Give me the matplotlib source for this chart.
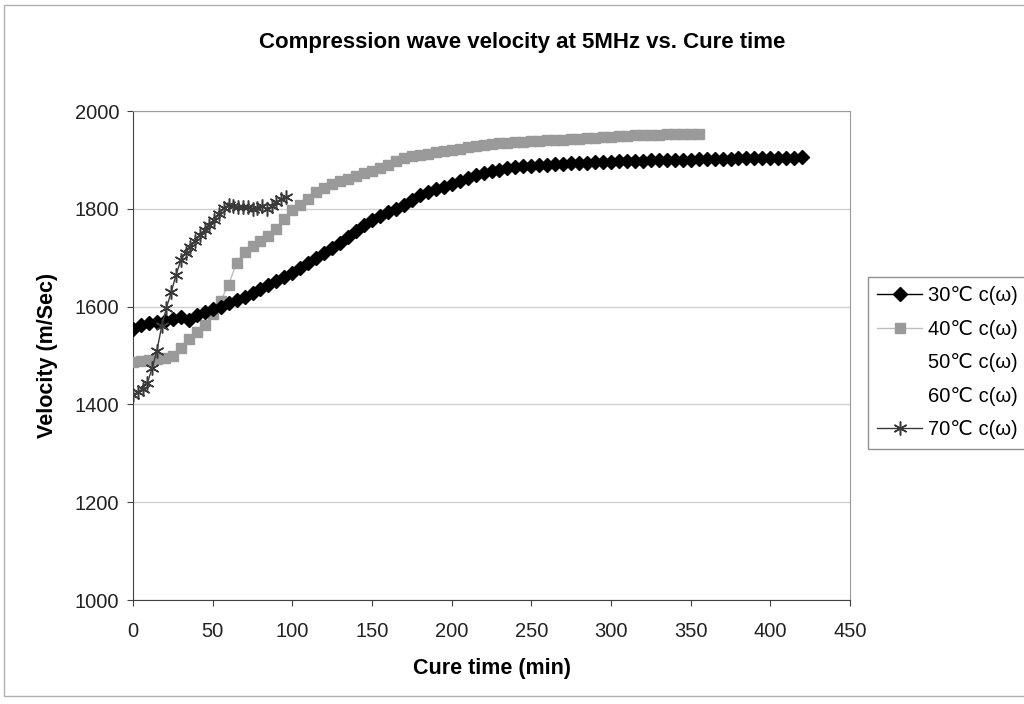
import numpy as np
import matplotlib.pyplot as plt
from matplotlib.patches import Rectangle

plt.rcParams['font.family'] = ['Liberation Sans', 'DejaVu Sans']

# ── data ─────────────────────────────────────
t30 = np.arange(0, 425, 5)
v30 = [1555, 1562, 1566, 1568, 1571, 1575, 1579, 1573, 1583, 1590,
       1596, 1600, 1607, 1613, 1620, 1628, 1636, 1644, 1652, 1660,
       1669, 1679, 1689, 1699, 1709, 1720, 1731, 1743, 1754, 1766,
       1777, 1786, 1794, 1800, 1808, 1818, 1828, 1834, 1840, 1845,
       1850, 1857, 1864, 1869, 1873, 1877, 1880, 1883, 1885, 1887,
       1888, 1889, 1890, 1891, 1892, 1893, 1894, 1894, 1895, 1896,
       1896, 1897, 1897, 1898, 1898, 1899, 1899, 1899, 1900, 1900,
       1900, 1901, 1901, 1902, 1902, 1902, 1903, 1903, 1903, 1903,
       1904, 1904, 1904, 1904, 1905]

t40 = np.arange(0, 360, 5)
v40 = [1487, 1489, 1491, 1493, 1495, 1498, 1515, 1534, 1548, 1562,
       1585, 1612, 1645, 1690, 1712, 1724, 1735, 1745, 1758, 1780,
       1798, 1808, 1820, 1834, 1842, 1850, 1857, 1862, 1868, 1873,
       1878, 1883, 1889, 1897, 1903, 1907, 1910, 1913, 1916, 1918,
       1921, 1923, 1926, 1928, 1930, 1932, 1934, 1935, 1936, 1937,
       1938, 1939, 1940, 1940, 1941, 1942, 1943, 1944, 1945, 1946,
       1947, 1948, 1949, 1950, 1950, 1951, 1951, 1952, 1952, 1952,
       1953, 1953]

t70 = np.arange(0, 99, 3)
v70 = [1420, 1425, 1432, 1444, 1474, 1510, 1560, 1598, 1630, 1665,
       1695, 1710, 1722, 1735, 1746, 1757, 1767, 1778, 1790, 1802,
       1808, 1806, 1804, 1803, 1804, 1800, 1802, 1806, 1800, 1805,
       1814, 1820, 1824]

labels = ["30℃ c(ω)", "40℃ c(ω)", "50℃ c(ω)", "60℃ c(ω)", "70℃ c(ω)"]

# ── plot ─────────────────────────────────────
fig = plt.figure(figsize=(10.24, 7.04), dpi=100)
fig.patches.append(Rectangle((0.004, 0.012), 1.2, 0.981, transform=fig.transFigure,
                             fill=False, edgecolor="#b0b0b0", linewidth=1.0))

ax = fig.add_axes([0.1299, 0.1477, 0.7002, 0.6946])

ax.plot(t30, v30, color="black", marker='D', markersize=7, linewidth=1, label=labels[0], zorder=4)
ax.plot(t40, v40, color="#bdbdbd", marker='s', markersize=7.5, markerfacecolor="#9a9a9a",
        markeredgecolor="#9a9a9a", linewidth=1, label=labels[1], zorder=3)
ax.plot([], [], color="none", label=labels[2])
ax.plot([], [], color="none", label=labels[3])
ax.plot(t70, v70, color="#3a3a3a", marker=(6, 2, 0), markersize=10, markeredgewidth=1.1,
        markeredgecolor="#3a3a3a", linewidth=1, label=labels[4], zorder=5)

ax.set_xlim(0, 450)
ax.set_ylim(1000, 2000)
ax.set_xticks(np.arange(0, 451, 50))
ax.set_yticks(np.arange(1000, 2001, 200))
ax.yaxis.grid(True, color="#d0d0d0", linewidth=1)
ax.set_axisbelow(True)
for side in ["top", "right"]:
    ax.spines[side].set_color("#9a9a9a")
for side in ["left", "bottom"]:
    ax.spines[side].set_color("#404040")
ax.tick_params(axis="both", labelsize=14.5, direction="out", length=4, color="#404040",
               labelcolor="#222222")
ax.tick_params(axis="x", pad=12)
ax.tick_params(axis="y", pad=6)

ax.set_xlabel("Cure time (min)", fontsize=15.5, fontweight="bold", labelpad=12)
ax.set_ylabel("Velocity (m/Sec)", fontsize=15.5, fontweight="bold", labelpad=12)
fig.text(0.51, 0.94, "Compression wave velocity at 5MHz vs. Cure time",
         ha="center", va="center", fontsize=16, fontweight="bold")

leg = fig.legend(loc="upper left", bbox_to_anchor=(0.848, 0.606), fontsize=14.5,
                 frameon=True, fancybox=False, edgecolor="#909090", framealpha=1,
                 handlelength=2.2, handletextpad=0.3, labelspacing=0.72, borderpad=0.45,
                 borderaxespad=0)
leg.get_frame().set_linewidth(1)

plt.savefig("out.png", dpi=100)
